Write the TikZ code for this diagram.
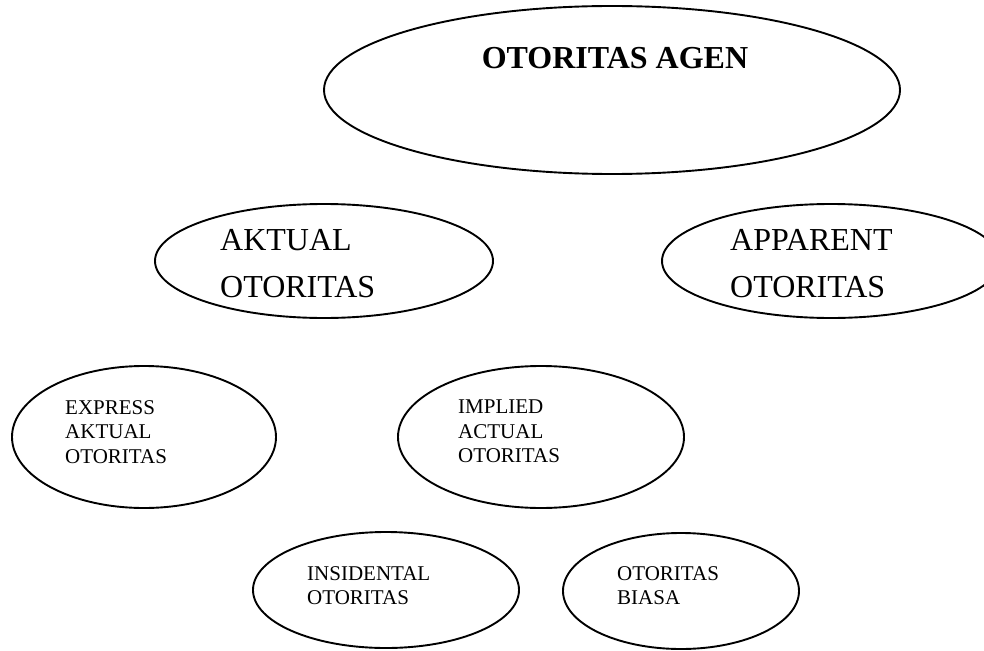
\documentclass[tikz,border=0pt]{standalone}
\usepackage{fontspec}
\setmainfont{Liberation Serif}
\usetikzlibrary{shapes.geometric}
\tikzset{
  oval/.style={draw, ellipse, line width=1.9pt, inner sep=0pt},
  bigtext/.style={anchor=north west, inner sep=0pt, align=left, font=\fontsize{32}{47}\selectfont},
  smalltext/.style={anchor=north west, inner sep=0pt, align=left, font=\fontsize{21}{24.5}\selectfont}
}
\begin{document}
\begin{tikzpicture}[x=1pt,y=-1pt]
\useasboundingbox (0,0) rectangle (984,650);
\node[oval, minimum width=576pt, minimum height=168pt] (agen) at (612,90) {};
\node[oval, minimum width=338pt, minimum height=114pt] (aktual) at (324,261) {};
\node[oval, minimum width=338pt, minimum height=114pt] (apparent) at (831,261) {};
\node[oval, minimum width=264pt, minimum height=142pt] (express) at (144,437) {};
\node[oval, minimum width=286pt, minimum height=142pt] (implied) at (541,437) {};
\node[oval, minimum width=266pt, minimum height=116pt] (insidental) at (386,590) {};
\node[oval, minimum width=236pt, minimum height=116pt] (biasa) at (681,591) {};

\node[inner sep=0pt, font=\fontsize{32}{38}\selectfont\bfseries] (tagen) at (615,58) {OTORITAS AGEN};
\node[bigtext] (taktual) at (220,229) {AKTUAL\\OTORITAS};
\node[bigtext] (tapparent) at (730,229) {APPARENT\\OTORITAS};
\node[smalltext] (texpress) at (65,400) {EXPRESS\\AKTUAL\\OTORITAS};
\node[smalltext] (timplied) at (458,400) {IMPLIED\\ACTUAL\\OTORITAS};
\node[smalltext] (tinsidental) at (307,566) {INSIDENTAL\\OTORITAS};
\node[smalltext] (tbiasa) at (617,566) {OTORITAS\\BIASA};
\end{tikzpicture}
\end{document}
